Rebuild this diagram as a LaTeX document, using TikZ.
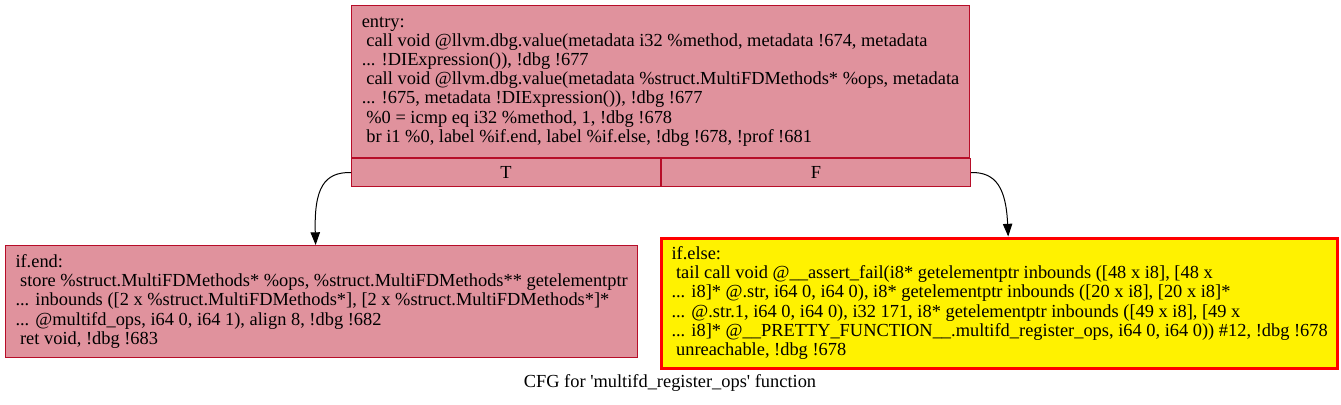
\documentclass[tikz,border=0pt]{standalone}
\usepackage{fontspec}
\newfontfamily\gvfont{Liberation Serif}
\usetikzlibrary{arrows.meta}
\definecolor{blockpink}{RGB}{224,146,157}
\definecolor{blockedge}{RGB}{183,13,40}

\tikzset{
  block/.style={draw=blockedge, fill=blockpink, line width=0.75pt, align=left,
    anchor=north west, inner xsep=7.5pt, inner ysep=0pt,
    font=\gvfont\fontsize{13.8pt}{14.4pt}\selectfont},
  cell/.style={block, align=center, minimum width=231.75pt, minimum height=21pt},
  deadblock/.style={block, draw=red, fill=yellow, line width=2.25pt},
  edge/.style={-{Triangle[length=9.5pt,width=7pt]}, line width=0.75pt}
}

\begin{document}
\begin{tikzpicture}[x=0.75pt, y=-0.75pt]
  \useasboundingbox (0,0) rectangle (1341,404);
  \fill[white] (0,0) rectangle (1341,404);
  % entry block with its two branch cells
  \node[block, minimum width=463.5pt, minimum height=114pt] (entry) at (351,5)
    {entry:\\
     \ call void @llvm.dbg.value(metadata i32 \%method, metadata !674, metadata\\
     ... !DIExpression()), !dbg !677\\
     \ call void @llvm.dbg.value(metadata \%struct.MultiFDMethods* \%ops, metadata\\
     ... !675, metadata !DIExpression()), !dbg !677\\
     \ \%0 = icmp eq i32 \%method, 1, !dbg !678\\
     \ br i1 \%0, label \%if.end, label \%if.else, !dbg !678, !prof !681};
  \node[cell] (T) at (entry.south west) {T};
  \node[cell] (F) at (T.north east) {F};
  % successors
  \node[block, minimum width=474pt, minimum height=84pt] (ifend) at (5,245)
    {if.end:\\
     \ store \%struct.MultiFDMethods* \%ops, \%struct.MultiFDMethods** getelementptr\\
     ... inbounds ([2 x \%struct.MultiFDMethods*], [2 x \%struct.MultiFDMethods*]*\\
     ... @multifd\_ops, i64 0, i64 1), align 8, !dbg !682\\
     \ ret void, !dbg !683};
  \node[deadblock, minimum width=506.25pt, minimum height=97.5pt] (ifelse) at (660,236.5)
    {if.else:\\
     \ tail call void @\_\_assert\_fail(i8* getelementptr inbounds ([48 x i8], [48 x\\
     ... i8]* @.str, i64 0, i64 0), i8* getelementptr inbounds ([20 x i8], [20 x i8]*\\
     ... @.str.1, i64 0, i64 0), i32 171, i8* getelementptr inbounds ([49 x i8], [49 x\\
     ... i8]* @\_\_PRETTY\_FUNCTION\_\_.multifd\_register\_ops, i64 0, i64 0)) \#12, !dbg !678\\
     \ unreachable, !dbg !678};
  \draw[edge] (T.west) .. controls (324,172) and (314,188) .. ([xshift=-4.5pt]ifend.north);
  \draw[edge] (F.east) .. controls (996,172) and (1006,188) .. ([xshift=6.4pt]ifelse.north);
  \node[font=\gvfont\fontsize{13.8pt}{14.4pt}\selectfont] (caption) at (670,383)
    {CFG for 'multifd\_register\_ops' function};
\end{tikzpicture}
\end{document}
